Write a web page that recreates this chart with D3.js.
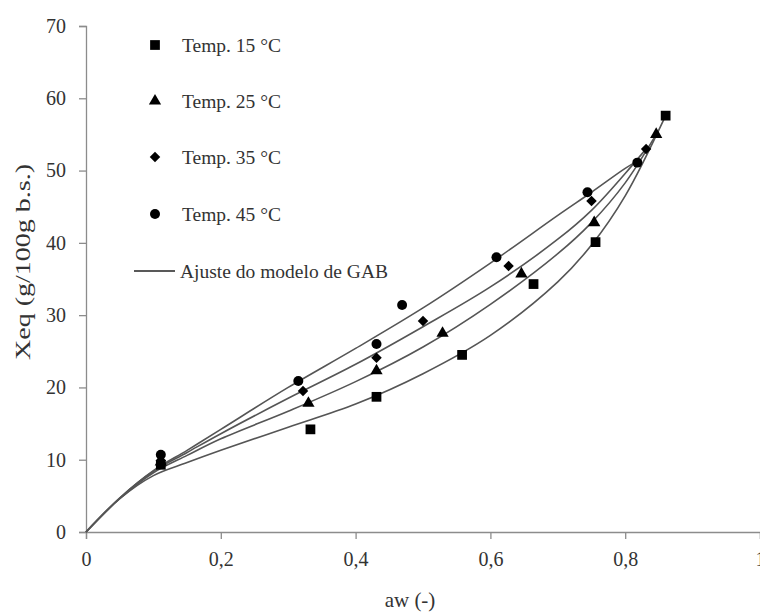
<!DOCTYPE html>
<html>
<head>
<meta charset="utf-8">
<script src="https://cdn.jsdelivr.net/npm/d3@7"></script>
<style>
  body { margin: 0; background: #fff; }
</style>
</head>
<body>
<script>
// measured points (aw, Xeq)
const aw15 = [0.111, 0.333, 0.431, 0.558, 0.664, 0.756, 0.860]
const xeq15 = [9.3, 14.2, 18.7, 24.5, 34.3, 40.1, 57.6]
const aw25 = [0.111, 0.330, 0.431, 0.529, 0.646, 0.754, 0.846]
const xeq25 = [9.7, 17.8, 22.3, 27.5, 35.7, 42.8, 55.0]
const aw35 = [0.111, 0.322, 0.431, 0.500, 0.627, 0.750, 0.831]
const xeq35 = [9.9, 19.5, 24.1, 29.2, 36.8, 45.8, 53.0]
const aw45 = [0.111, 0.315, 0.431, 0.469, 0.609, 0.744, 0.818]
const xeq45 = [10.7, 20.9, 26.0, 31.4, 38.0, 47.0, 51.1]

// GAB fit curves
const fitAw15 = [0, 0.05, 0.1, 0.15, 0.2, 0.3, 0.4, 0.5, 0.6, 0.7, 0.75, 0.8, 0.86]
const fitXeq15 = [0, 4.6, 7.8, 9.6, 11.3, 14.5, 17.7, 21.9, 27.2, 34.6, 39.7, 46.5, 57.6]
const fitAw25 = [0, 0.05, 0.1, 0.15, 0.2, 0.3, 0.4, 0.5, 0.6, 0.7, 0.75, 0.8, 0.846]
const fitXeq25 = [0, 4.6, 8.2, 10.6, 12.9, 16.7, 20.8, 25.6, 31.5, 38.5, 42.8, 48.3, 55.0]
const fitAw35 = [0, 0.05, 0.1, 0.15, 0.2, 0.3, 0.4, 0.5, 0.6, 0.7, 0.75, 0.8, 0.831]
const fitXeq35 = [0, 4.7, 8.4, 11.0, 13.6, 18.5, 23.2, 28.4, 33.9, 40.5, 44.5, 49.6, 53.0]
const fitAw45 = [0, 0.05, 0.1, 0.15, 0.2, 0.3, 0.4, 0.5, 0.6, 0.7, 0.75, 0.8, 0.818]
const fitXeq45 = [0, 4.7, 8.5, 11.3, 14.2, 20.0, 25.4, 31.0, 37.2, 43.8, 47.0, 50.3, 51.3]

const xTicks = [0, 0.2, 0.4, 0.6, 0.8, 1]
const yTicks = [0, 10, 20, 30, 40, 50, 60, 70]
const seriesNames = ['Temp. 15 °C', 'Temp. 25 °C', 'Temp. 35 °C', 'Temp. 45 °C']
const fitName = 'Ajuste do modelo de GAB'
const xLabel = 'aw (-)'
const yLabel = 'Xeq (g/100g b.s.)'

const width = 760
const height = 612
const axisColor = '#8c8c8c'
const textColor = '#333'
const lineColor = '#555'
const serif = 'Liberation Serif'

// rotated square for the 35 °C marker
const symbolRhomb = {
  draw(ctx, size) {
    const r = Math.sqrt(size / 2)
    ctx.moveTo(0, -r)
    ctx.lineTo(r, 0)
    ctx.lineTo(0, r)
    ctx.lineTo(-r, 0)
    ctx.closePath()
  }
}

const zip = (a, b) => a.map((v, i) => ({ x: v, y: b[i] }))
const series = [
  { name: seriesNames[0], sym: d3.symbolSquare, size: 95, pts: zip(aw15, xeq15), fit: zip(fitAw15, fitXeq15) },
  { name: seriesNames[1], sym: d3.symbolTriangle, size: 65, pts: zip(aw25, xeq25), fit: zip(fitAw25, fitXeq25) },
  { name: seriesNames[2], sym: symbolRhomb, size: 55, pts: zip(aw35, xeq35), fit: zip(fitAw35, fitXeq35) },
  { name: seriesNames[3], sym: d3.symbolCircle, size: 78, pts: zip(aw45, xeq45), fit: zip(fitAw45, fitXeq45) },
]

const svg = d3.select('body').append('svg')
  .attr('width', width)
  .attr('height', height)
  .attr('font-family', serif)

// scales
const x = d3.scaleLinear().domain([0, 1]).range([86, 760])
const y = d3.scaleLinear().domain([0, 70]).range([532, 26])

const comma = d => String(d).replace('.', ',')

// axes
const xAxis = svg.append('g')
  .attr('transform', `translate(0,${y(0)})`)
  .call(d3.axisBottom(x).tickValues(xTicks).tickFormat(comma).tickSizeOuter(0).tickSize(7).tickPadding(13))
const yAxis = svg.append('g')
  .attr('transform', `translate(${x(0)},0)`)
  .call(d3.axisLeft(y).tickValues(yTicks).tickSizeOuter(0).tickSize(7).tickPadding(13))

;[xAxis, yAxis].forEach(g => {
  g.attr('font-family', serif).attr('font-size', 20)
  g.select('.domain').attr('stroke', axisColor).attr('stroke-width', 1.3)
  g.selectAll('.tick line').attr('stroke', axisColor).attr('stroke-width', 1.3)
  g.selectAll('.tick text').attr('fill', textColor)
})

// fit curves
const line = d3.line()
  .x(d => x(d.x))
  .y(d => y(d.y))
  .curve(d3.curveCatmullRom.alpha(0.5))

svg.append('g').selectAll('path')
  .data(series)
  .join('path')
  .attr('d', d => line(d.fit))
  .attr('fill', 'none')
  .attr('stroke', lineColor)
  .attr('stroke-width', 1.6)

// markers
series.forEach(s => {
  svg.append('g').selectAll('path')
    .data(s.pts)
    .join('path')
    .attr('transform', d => `translate(${x(d.x)},${y(d.y)})`)
    .attr('d', d3.symbol().type(s.sym).size(s.size))
    .attr('fill', '#000')
})

// axis titles
svg.append('text')
  .attr('x', 410)
  .attr('y', 607)
  .attr('text-anchor', 'middle')
  .attr('fill', textColor)
  .attr('font-size', 21)
  .text(xLabel)

svg.append('text')
  .attr('transform', 'translate(30,262) rotate(-90)')
  .attr('text-anchor', 'middle')
  .attr('fill', textColor)
  .attr('font-size', 22)
  .attr('textLength', 196)
  .attr('lengthAdjust', 'spacingAndGlyphs')
  .text(yLabel)

// legend
const legend = svg.append('g')
const rowY = [45, 101, 157, 214]
series.forEach((s, i) => {
  legend.append('path')
    .attr('transform', `translate(155,${rowY[i]})`)
    .attr('d', d3.symbol().type(s.sym).size(s.size))
    .attr('fill', '#000')
  legend.append('text')
    .attr('x', 182)
    .attr('y', rowY[i] + 7)
    .attr('fill', textColor)
    .attr('font-size', 19.5)
    .text(s.name)
})
legend.append('line')
  .attr('x1', 134).attr('x2', 175)
  .attr('y1', 271).attr('y2', 271)
  .attr('stroke', '#222')
  .attr('stroke-width', 1.4)
legend.append('text')
  .attr('x', 180)
  .attr('y', 278)
  .attr('fill', textColor)
  .attr('font-size', 19.5)
  .text(fitName)
</script>
</body>
</html>
